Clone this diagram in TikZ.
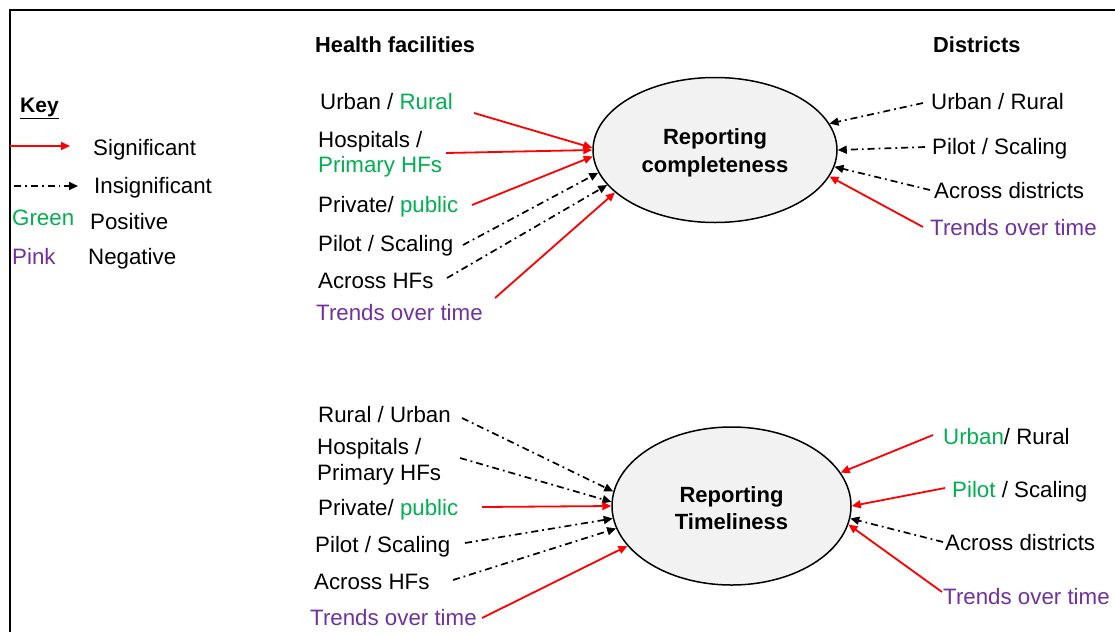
\documentclass[tikz,border=0pt]{standalone}
\usepackage{fontspec}
\setmainfont{Liberation Sans}
\usetikzlibrary{arrows.meta,shapes.geometric}
\definecolor{grn}{RGB}{0,176,80}
\definecolor{pnk}{RGB}{112,48,160}
\definecolor{ellfill}{RGB}{242,242,242}
\tikzset{
  lbl/.style={anchor=west,inner sep=0pt,text height=15.7pt,text depth=0pt,font=\fontsize{22.3}{26}\selectfont},
  hdr/.style={anchor=west,inner sep=0pt,text height=15pt,text depth=0pt,font=\fontsize{21.8}{25}\selectfont\bfseries},
  ell/.style={ellipse,draw=black,line width=1.5pt,fill=ellfill,inner sep=0pt,align=center,font=\fontsize{22}{27}\selectfont\bfseries},
  sig/.style={draw=red,line width=1.8pt,-{Triangle[length=9pt,width=8pt]}},
  insig/.style={draw=black,line width=1.7pt,dash pattern=on 7pt off 4pt on 1.8pt off 4pt,-{Triangle[length=9pt,width=8pt]}}
}
\begin{document}
\begin{tikzpicture}[x=1pt,y=-1pt]
\useasboundingbox (0,0) rectangle (1115,632);
% frame
\draw[line width=1.6pt] (10,632) -- (10,10) -- (1115,10);
% headers
\node[hdr] (hhf) at (315,45) {Health facilities};
\node[hdr] (hdi) at (933,45) {Districts};
% key
\node[lbl,font=\fontsize{21}{25}\selectfont\bfseries] (key) at (20,105) {\underline{Key}};
\coordinate (k1a) at (10,146);
\coordinate (k1b) at (70,146);
\coordinate (k2a) at (14,186);
\coordinate (k2b) at (78,186);
\draw[sig] (k1a) -- (k1b);
\draw[insig] (k2a) -- (k2b);
\node[lbl] (ksig) at (93,148) {Significant};
\node[lbl] (kins) at (94,186) {Insignificant};
\node[lbl,text=grn] (kgr) at (12,218) {Green};
\node[lbl] (kpos) at (90,222) {Positive};
\node[lbl,text=pnk] (kpk) at (12,257) {Pink};
\node[lbl] (kneg) at (88,257) {Negative};
% ellipses
\node[ell,minimum width=244pt,minimum height=145pt] (e1) at (715,150) {\rule{0pt}{22pt}Reporting\\[1pt]completeness};
\node[ell,minimum width=239pt,minimum height=158pt] (e2) at (731.5,506) {\rule{0pt}{20pt}Reporting\\Timeliness};
% top-left labels
\node[lbl] (a1) at (320,102) {Urban / \textcolor{grn}{Rural}};
\node[lbl] (a2) at (318,140) {Hospitals /};
\node[lbl,text=grn] (a2b) at (318,165) {Primary HFs};
\node[lbl] (a3) at (318,205) {Private/ \textcolor{grn}{public}};
\node[lbl] (a4) at (318,244) {Pilot / Scaling};
\node[lbl] (a5) at (318,281) {Across HFs};
\node[lbl,text=pnk] (a6) at (316,313) {Trends over time};
\coordinate (sa1) at (474,113);
\coordinate (sa2) at (446,153);
\coordinate (sa3) at (472,205);
\coordinate (sa4) at (463,245);
\coordinate (sa5) at (447,278);
\coordinate (sa6) at (495,298);
\draw[sig] (sa1) -- (e1.179);
\draw[sig] (sa2) -- (e1.180);
\draw[sig] (sa3) -- (e1.183);
\draw[insig] (sa4) -- (e1.191.5);
\draw[insig] (sa5) -- (e1.198.7);
\draw[sig] (sa6) -- (e1.203.3);
% top-right labels
\node[lbl] (b1) at (931,102) {Urban / Rural};
\node[lbl] (b2) at (932,147) {Pilot / Scaling};
\node[lbl] (b3) at (934,191) {Across districts};
\node[lbl,text=pnk] (b4) at (930,228) {Trends over time};
\coordinate (sb1) at (923,103);
\coordinate (sb2) at (925,147);
\coordinate (sb3) at (930,190);
\coordinate (sb4) at (923,227);
\draw[insig] (sb1) -- (e1.13.3);
\draw[insig] (sb2) -- (e1.0.5);
\draw[insig] (sb3) -- (e1.-8.6);
\draw[sig] (sb4) -- (e1.-13.8);
% bottom-left labels
\node[lbl] (c1) at (318,415) {Rural / Urban};
\node[lbl] (c2) at (317,447) {Hospitals /};
\node[lbl] (c2b) at (317,473) {Primary HFs};
\node[lbl] (c3) at (318,508) {Private/ \textcolor{grn}{public}};
\node[lbl] (c4) at (315,545) {Pilot / Scaling};
\node[lbl] (c5) at (314,582) {Across HFs};
\node[lbl,text=pnk] (c6) at (310,618) {Trends over time};
\coordinate (sc1) at (462,418);
\coordinate (sc2) at (460,458);
\coordinate (sc3) at (482,507);
\coordinate (sc4) at (465,543);
\coordinate (sc5) at (453,580);
\coordinate (sc6) at (482,618);
\draw[insig] (sc1) -- (e2.173.4);
\draw[insig] (sc2) -- (e2.178.6);
\draw[sig] (sc3) -- (e2.180.5);
\draw[insig] (sc4) -- (e2.186.7);
\draw[insig] (sc5) -- (e2.191.4);
\draw[sig] (sc6) -- (e2.201);
% bottom-right labels
\node[lbl] (d1) at (943,437) {\textcolor{grn}{Urban}/ Rural};
\node[lbl] (d2) at (952,490) {\textcolor{grn}{Pilot} / Scaling};
\node[lbl] (d3) at (945,543) {Across districts};
\node[lbl,text=pnk] (d4) at (943,597) {Trends over time};
\coordinate (sd1) at (933,435);
\coordinate (sd2) at (945,488);
\coordinate (sd3) at (943,542);
\coordinate (sd4) at (942,592);
\draw[sig] (sd1) -- (e2.17.8);
\draw[sig] (sd2) -- (e2.-0.5);
\draw[insig] (sd3) -- (e2.-6.6);
\draw[sig] (sd4) -- (e2.-9.3);
\end{tikzpicture}
\end{document}
